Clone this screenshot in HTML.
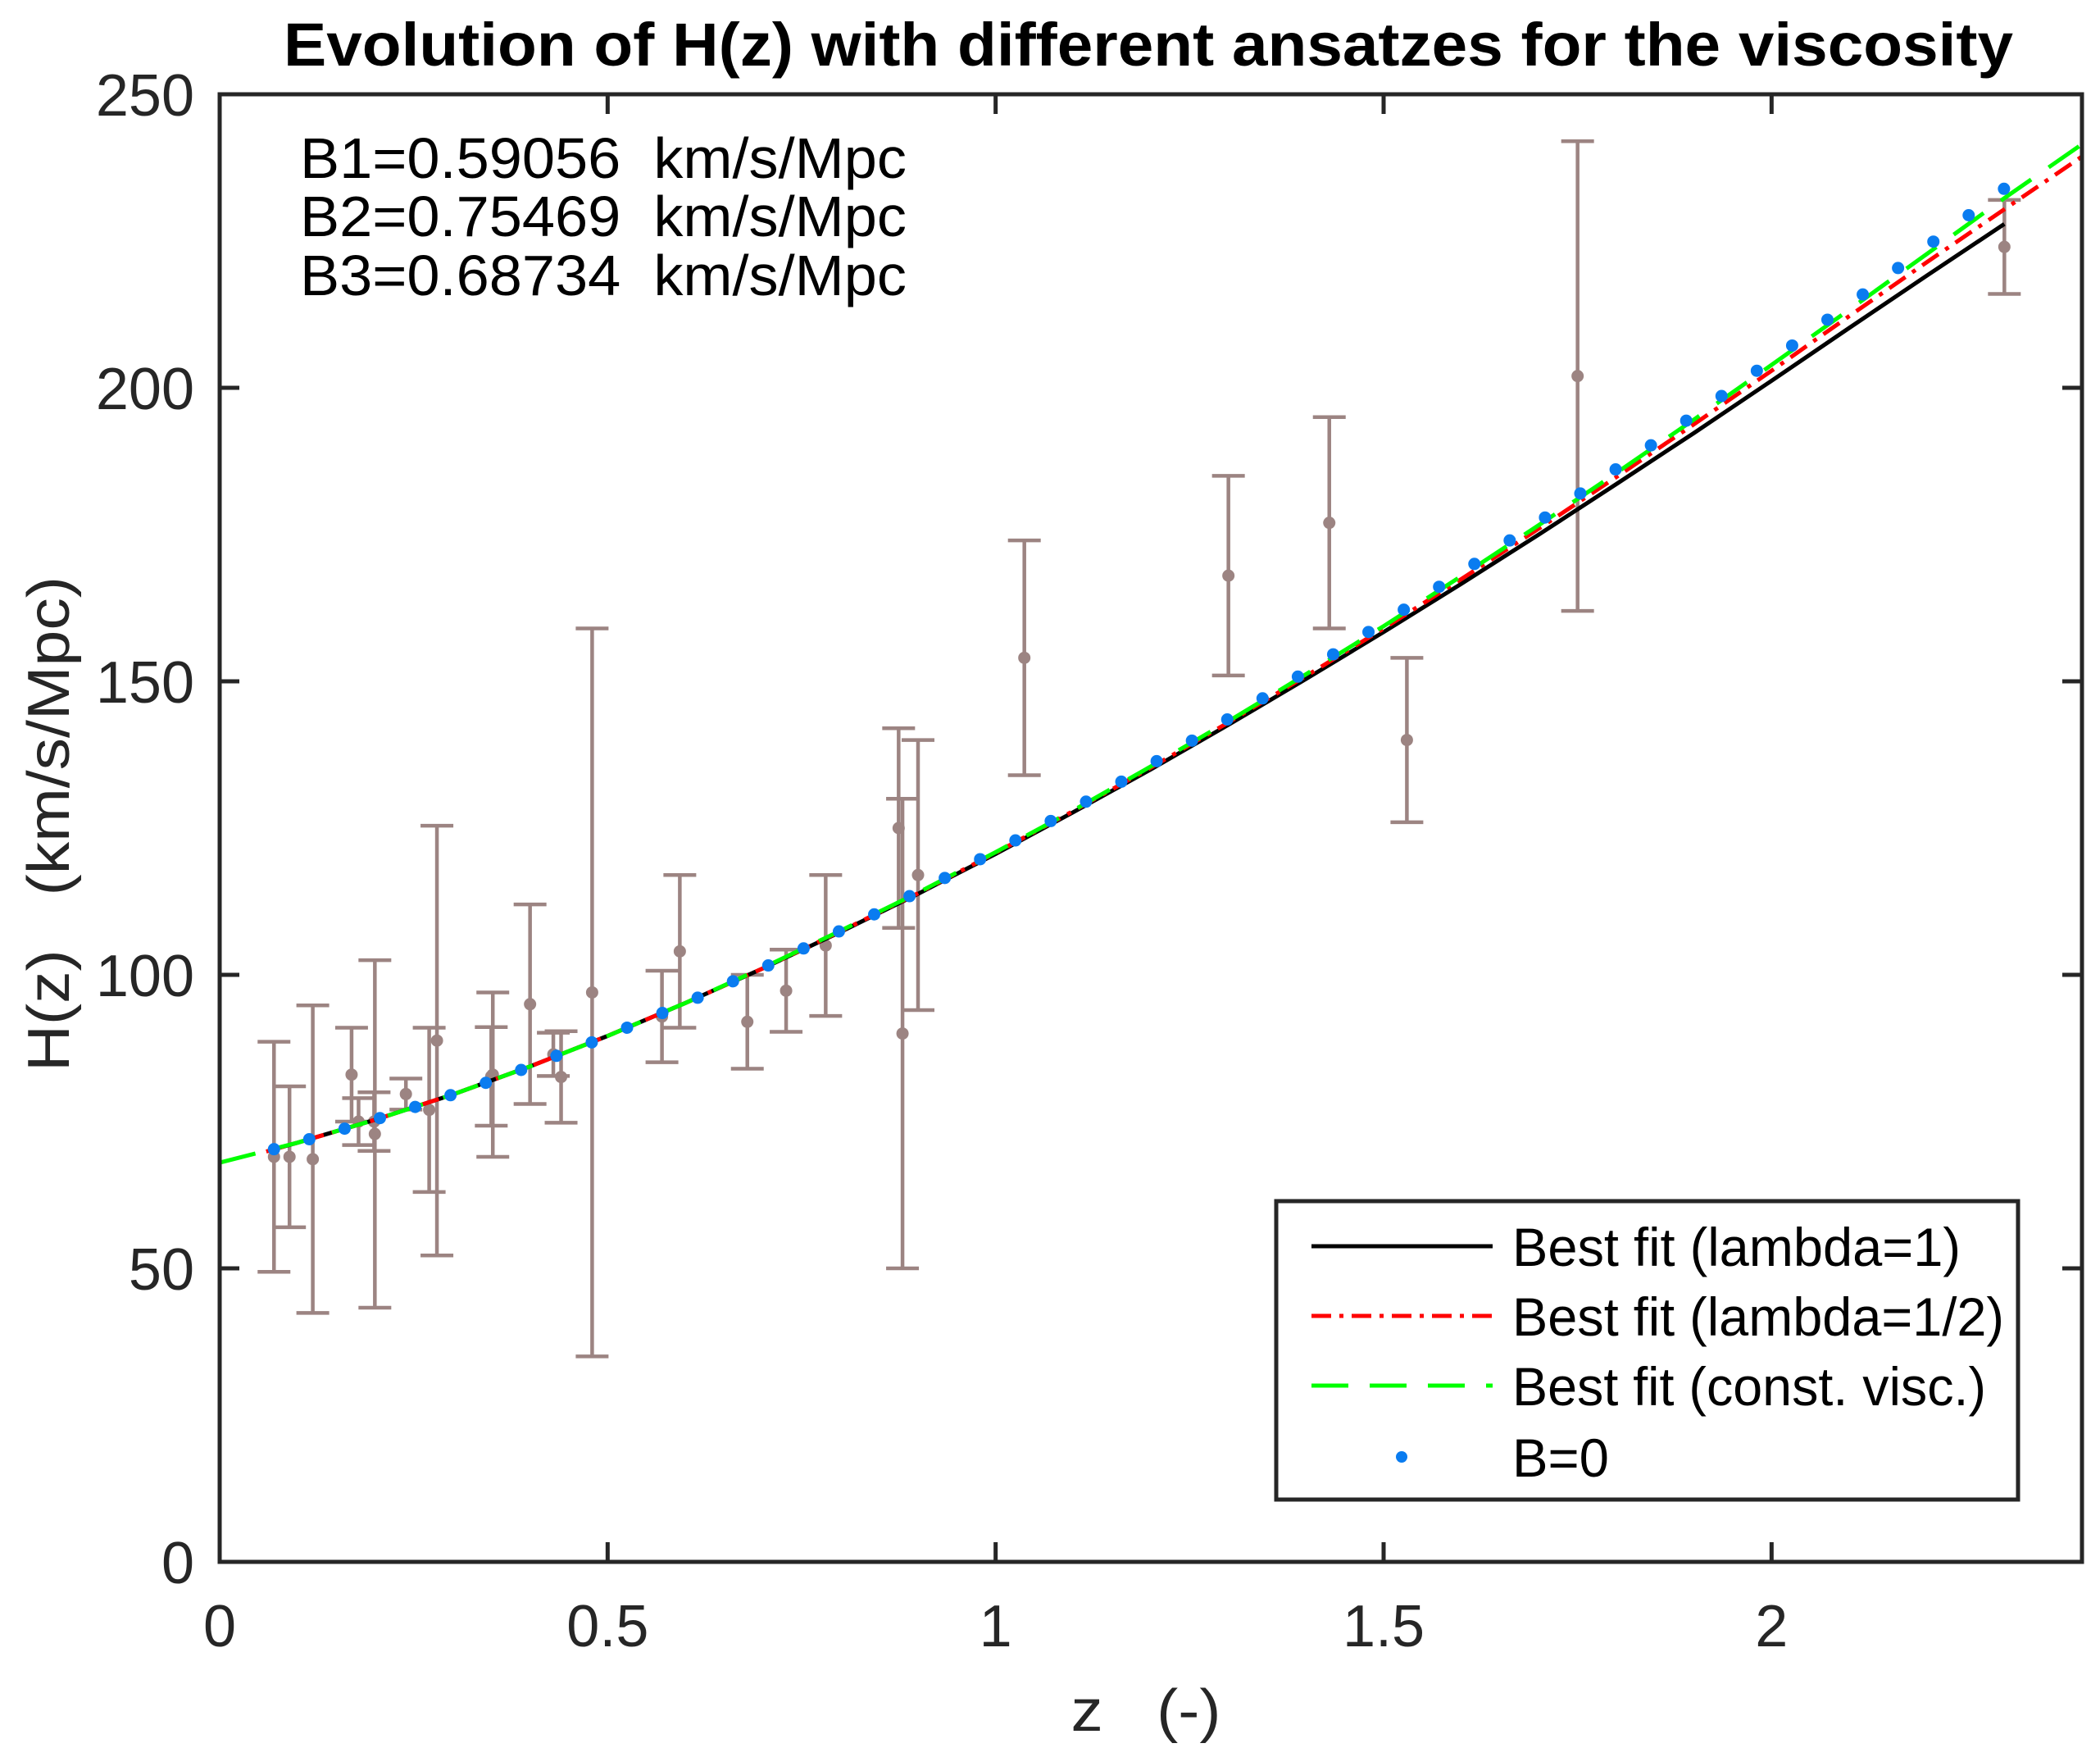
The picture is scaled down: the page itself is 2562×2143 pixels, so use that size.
<!DOCTYPE html>
<html><head><meta charset="utf-8"><style>
html,body{margin:0;padding:0;background:#fff;}
svg{display:block;font-family:"Liberation Sans",Arial,sans-serif;}
text{white-space:pre;}
</style></head><body>
<svg id="chart" width="2562" height="2143" viewBox="0 0 2562 2143" xmlns="http://www.w3.org/2000/svg" xml:space="preserve">
<rect x="0" y="0" width="2562" height="2143" fill="#fff"/>
<text x="1401" y="80" font-size="74" font-weight="bold" text-anchor="middle" textLength="2110" lengthAdjust="spacingAndGlyphs">Evolution of H(z) with different ansatzes for the viscosity</text>
<g id="plot"></g>
<text x="366" y="217" font-size="70" textLength="740" lengthAdjust="spacingAndGlyphs">B1=0.59056  km/s/Mpc</text>
<text x="366" y="288" font-size="70" textLength="740" lengthAdjust="spacingAndGlyphs">B2=0.75469  km/s/Mpc</text>
<text x="366" y="360" font-size="70" textLength="740" lengthAdjust="spacingAndGlyphs">B3=0.68734  km/s/Mpc</text>
<text x="1398" y="2111" font-size="72" text-anchor="middle" fill="#262626" textLength="183" lengthAdjust="spacingAndGlyphs">z   (-)</text>
<text transform="translate(84,1005) rotate(-90)" font-size="72" text-anchor="middle" fill="#262626" textLength="604" lengthAdjust="spacingAndGlyphs">H(z)   (km/s/Mpc)</text>
<g>
<rect x="1557" y="1465" width="905" height="364" fill="#fff" stroke="#262626" stroke-width="5"/>
<line x1="1600" y1="1520" x2="1821" y2="1520" stroke="#000" stroke-width="5"/>
<text x="1845" y="1544" font-size="66" textLength="547" lengthAdjust="spacingAndGlyphs">Best fit (lambda=1)</text>
<line x1="1600" y1="1605" x2="1821" y2="1605" stroke="#ff0000" stroke-width="5" stroke-dasharray="24,10,5,10"/>
<text x="1845" y="1629" font-size="66" textLength="600" lengthAdjust="spacingAndGlyphs">Best fit (lambda=1/2)</text>
<line x1="1600" y1="1690" x2="1821" y2="1690" stroke="#00ff00" stroke-width="5" stroke-dasharray="45,26"/>
<text x="1845" y="1714" font-size="66" textLength="578" lengthAdjust="spacingAndGlyphs">Best fit (const. visc.)</text>
<circle cx="1710" cy="1777" r="7" fill="#0a7cf0"/>
<text x="1845" y="1801" font-size="66" textLength="118" lengthAdjust="spacingAndGlyphs">B=0</text>
</g>
</svg>
<script>
// observational data
const obsZ = [0.07,0.09,0.12,0.17,0.179,0.199,0.2,0.24,0.27,0.28,0.35,0.352,0.4,0.43,0.44,0.48,0.57,0.593,0.68,0.73,0.781,0.875,0.88,0.9,1.037,1.3,1.43,1.53,1.75,2.3];
const obsH = [69,69,68.6,83,75,75,72.9,79.69,77,88.8,82.7,83,95,86.45,82.6,97,92.9,104,92,97.3,105,125,90,117,154,168,177,140,202,224];
const obsErr = [19.6,12,26.2,8,4,5,29.6,2.65,14,36.6,8.4,14,17,3.68,7.8,62,7.8,13,8,7,12,17,40,23,20,17,18,14,40,8];
// best-fit curves
const blackZ = [0.07,0.1,0.2,0.3,0.4,0.5,0.6,0.7,0.8,0.9,1.0,1.1,1.2,1.3,1.4,1.5,1.6,1.7,1.8,1.9,2.0,2.1,2.2,2.3];
const blackH = [70.3,71.4,75.3,79.6,84.4,89.6,95.2,101.1,107.3,113.8,120.6,127.7,135.0,142.6,150.4,158.4,166.6,175.0,183.6,192.3,201.2,210.2,219.1,227.9];
const redZ = [0.06,0.1,0.2,0.3,0.4,0.5,0.6,0.7,0.8,0.9,1.0,1.1,1.2,1.3,1.4,1.5,1.6,1.7,1.8,1.9,2.0,2.1,2.2,2.3,2.4];
const redH = [69.9,71.4,75.3,79.6,84.4,89.6,95.2,101.1,107.4,113.9,120.8,127.9,135.3,143.0,150.9,159.0,167.4,176.0,184.8,193.8,202.9,212.2,221.4,230.4,239.4];
const greenZ = [0,0.1,0.2,0.3,0.4,0.5,0.6,0.7,0.8,0.9,1.0,1.1,1.2,1.3,1.4,1.5,1.6,1.7,1.8,1.9,2.0,2.1,2.2,2.3,2.4];
const greenH = [68,71.4,75.3,79.6,84.4,89.6,95.2,101.2,107.5,114.0,120.9,128.0,135.5,143.2,151.2,159.4,167.9,176.6,185.5,194.6,203.9,213.3,222.8,232.3,241.5];
// B=0 dots
const dotZ = [0.07,0.1155,0.161,0.2065,0.252,0.2975,0.343,0.3885,0.434,0.4795,0.525,0.5705,0.616,0.6615,0.707,0.7525,0.798,0.8435,0.889,0.9345,0.98,1.0255,1.071,1.1165,1.162,1.2075,1.253,1.2985,1.344,1.3895,1.435,1.4805,1.526,1.5715,1.617,1.6625,1.708,1.7535,1.799,1.8445,1.89,1.9355,1.981,2.0265,2.072,2.1175,2.163,2.2085,2.254,2.2995];
const dotH = [70.3,72.0,73.8,75.6,77.5,79.5,81.6,83.8,86.2,88.5,91.0,93.5,96.1,98.9,101.6,104.5,107.4,110.3,113.4,116.5,119.7,122.9,126.2,129.5,132.9,136.4,139.9,143.5,147.1,150.8,154.6,158.4,162.2,166.1,170.0,174.0,177.9,182.0,186.1,190.2,194.4,198.6,202.9,207.2,211.6,215.9,220.4,224.9,229.4,233.9];
const xTicks = [0,0.5,1,1.5,2];
const xTickLabels = ["0","0.5","1","1.5","2"];
const yTicks = [0,50,100,150,200,250];
const yTickLabels = ["0","50","100","150","200","250"];

const L=268,R=2540,T=115,B=1905,XMAX=2.4,YMAX=250;
const sx = z => L + (R-L)*z/XMAX;
const sy = h => B - (B-T)*h/YMAX;
const NS="http://www.w3.org/2000/svg";
const g=document.getElementById('plot');
function mk(tag,attrs){const e=document.createElementNS(NS,tag);for(const k in attrs)e.setAttribute(k,attrs[k]);g.appendChild(e);return e;}

// error bars
const EC="#9c8482";
for(let i=0;i<obsZ.length;i++){
  const x=sx(obsZ[i]), y1=sy(obsH[i]-obsErr[i]), y2=sy(obsH[i]+obsErr[i]);
  const v=mk('line',{x1:x,y1:y1,x2:x,y2:y2,stroke:EC,'stroke-width':4.5});
  
  
  const c1=mk('line',{x1:x-20,y1:y1,x2:x+20,y2:y1,stroke:EC,'stroke-width':4.5});
  
  
  const c2=mk('line',{x1:x-20,y1:y2,x2:x+20,y2:y2,stroke:EC,'stroke-width':4.5});
  
  
  const p=mk('circle',{cx:x,cy:sy(obsH[i]),r:7.5,fill:EC});
  
  
}
function pts(zs,hs){return zs.map((z,i)=>sx(z).toFixed(1)+','+sy(hs[i]).toFixed(1)).join(' ');}
const lb=mk('polyline',{points:pts(blackZ,blackH),fill:'none',stroke:'#000','stroke-width':5});


const lr=mk('polyline',{points:pts(redZ,redH),fill:'none',stroke:'#ff0000','stroke-width':5,'stroke-dasharray':'24,10,5,10'});


const lg=mk('polyline',{points:pts(greenZ,greenH),fill:'none',stroke:'#00ff00','stroke-width':5,'stroke-dasharray':'45,26'});


for(let i=0;i<dotZ.length;i++){
  const d=mk('circle',{cx:sx(dotZ[i]),cy:sy(dotH[i]),r:7.5,fill:'#0a7cf0'});
  
  
}
// axes box
const box=mk('rect',{x:L,y:T,width:R-L,height:B-T,fill:'none',stroke:'#262626','stroke-width':5});


xTicks.forEach((t,i)=>{
  const x=sx(t);
  const a=mk('line',{x1:x,y1:B,x2:x,y2:B-24,stroke:'#262626','stroke-width':5});
  
  
  const b=mk('line',{x1:x,y1:T,x2:x,y2:T+24,stroke:'#262626','stroke-width':5});
  
  
  const tx=mk('text',{x:x,y:2008,'font-size':72,'text-anchor':'middle',fill:'#262626'});
  tx.textContent=xTickLabels[i];
  
  
});
yTicks.forEach((t,i)=>{
  const y=sy(t);
  const a=mk('line',{x1:L,y1:y,x2:L+24,y2:y,stroke:'#262626','stroke-width':5});
  
  
  const b=mk('line',{x1:R,y1:y,x2:R-24,y2:y,stroke:'#262626','stroke-width':5});
  
  
  const tx=mk('text',{x:237,y:y+26,'font-size':72,'text-anchor':'end',fill:'#262626'});
  tx.textContent=yTickLabels[i];
  
  
});
</script>
</body></html>
